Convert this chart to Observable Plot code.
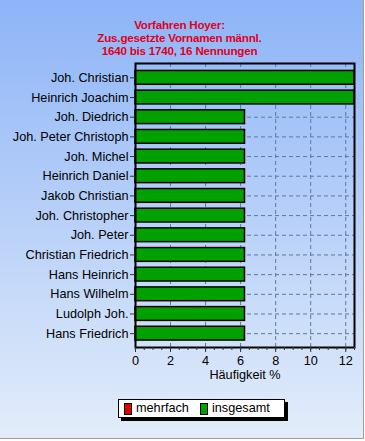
<!DOCTYPE html>
<html><head><meta charset="utf-8">
<script src="https://cdn.jsdelivr.net/npm/d3@7"></script>
<script src="https://cdn.jsdelivr.net/npm/@observablehq/plot@0.6"></script>
<style>
body{margin:0}
#wrap{position:relative;width:363px;height:438px;background:linear-gradient(#8db4f7,#e3edfa);border-right:1px solid #a0a0a0;border-bottom:1px solid #a0a0a0;font-family:"Liberation Sans",Arial,sans-serif;overflow:hidden}
#title{position:absolute;top:18px;left:-2px;width:363px;text-align:center;color:#e0001c;font-weight:bold;font-size:11.6px;line-height:13px;letter-spacing:-0.2px}
#chart{position:absolute;top:0;left:0;width:365px}
#chart svg{max-width:none}
#legend{position:absolute;left:118px;top:399px;width:165px;height:17px;background:#fff;border:1px solid #000;box-shadow:3px 3px 0 #000;font-size:12.7px;line-height:17px}
.sw{position:absolute;top:3px;width:6px;height:10px;border:1px solid #000}
.lt{position:absolute;top:0}
</style>
</head><body>
<div id="wrap">
<div id="chart"></div>
<div id="title"></div>
<div id="legend"></div>
</div>
<script>
const titleLines = ["Vorfahren Hoyer:", "Zus.gesetzte Vornamen männl.", "1640 bis 1740, 16 Nennungen"];
const names = ["Joh. Christian","Heinrich Joachim","Joh. Diedrich","Joh. Peter Christoph","Joh. Michel","Heinrich Daniel","Jakob Christian","Joh. Christopher","Joh. Peter","Christian Friedrich","Hans Heinrich","Hans Wilhelm","Ludolph Joh.","Hans Friedrich"];
const values = [12.5,12.5,6.25,6.25,6.25,6.25,6.25,6.25,6.25,6.25,6.25,6.25,6.25,6.25];
const majorTicks = [0,2,4,6,8,10,12];
const minorTicks = d3.range(0, 12.5 + 0.001, 0.5);
const xLabel = "Häufigkeit %";
const legendItems = [{label:"mehrfach", color:"#e00000"}, {label:"insgesamt", color:"#00a000"}];

document.getElementById("title").innerHTML = titleLines.map(t => `<div>${t}</div>`).join("");

const data = names.map((n, i) => ({name: n, value: values[i]}));
const gridStyle = {stroke: "#5a78a8", strokeOpacity: 1, strokeDasharray: "4,3", strokeWidth: 1};

const chart = Plot.plot({
  width: 365, height: 392,
  marginTop: 63, marginLeft: 135, marginRight: 11, marginBottom: 45,
  style: {background: "transparent", fontFamily: "'Liberation Sans', Arial, sans-serif", fontSize: "12.7px", color: "black"},
  x: {domain: [0, 12.5]},
  y: {domain: names, paddingInner: 0.3, paddingOuter: 0.15, insetTop: 4.5, insetBottom: 4, round: false},
  marks: [
    Plot.gridX(majorTicks, gridStyle),
    Plot.gridY(names, gridStyle),
    Plot.barX(data, {x: "value", y: "name", fill: "#00a000", stroke: "black", strokeWidth: 1.5}),
    Plot.frame({stroke: "black", strokeWidth: 2}),
    Plot.axisX(minorTicks, {tickSize: 3, tickFormat: () => "", label: null, stroke: "#333"}),
    Plot.axisX(majorTicks, {tickSize: 5, tickPadding: 3, label: null, fill: "black", stroke: "#333"}),
    Plot.axisY({tickSize: 5, tickPadding: 2, label: null, fill: "black", stroke: "#333"}),
    Plot.text([xLabel], {frameAnchor: "bottom", dy: 31, fill: "black"})
  ]
});
document.getElementById("chart").appendChild(chart);

const lg = document.getElementById("legend");
const pos = [{sw: 5, tx: 17}, {sw: 81, tx: 93}];
legendItems.forEach((it, i) => {
  lg.insertAdjacentHTML("beforeend",
    `<div class="sw" style="left:${pos[i].sw}px;background:${it.color}"></div><div class="lt" style="left:${pos[i].tx}px">${it.label}</div>`);
});
</script>
</body></html>
